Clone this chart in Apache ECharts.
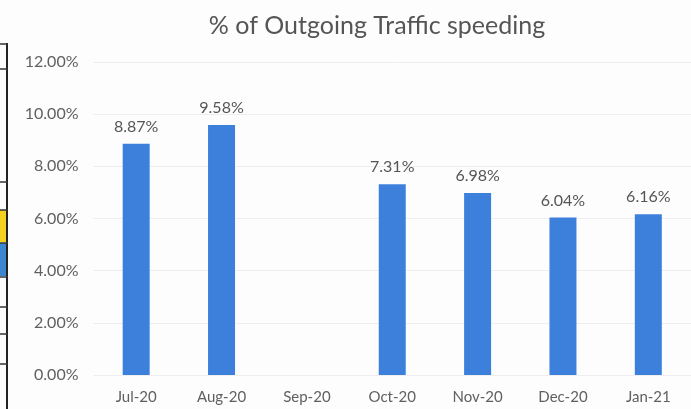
<!DOCTYPE html>
<html><head><meta charset="utf-8">
<script src="https://cdn.jsdelivr.net/npm/echarts@6/dist/echarts.min.js"></script>
<style>html,body{margin:0;padding:0;background:#fdfdfd;}#c{width:691px;height:409px;}</style>
</head><body><div id="c"></div>
<script>
const categories = ['Jul-20','Aug-20','Sep-20','Oct-20','Nov-20','Dec-20','Jan-21'];
const values = [8.87, 9.58, null, 7.31, 6.98, 6.04, 6.16];
const chartTitle = '% of Outgoing Traffic speeding';

const font = 'Lato, "Open Sans", sans-serif';
const chart = echarts.init(document.getElementById('c'));
const tableLines = [44, 69, 182, 210, 243, 277, 307, 334, 364];
const graphics = [
  {type:'rect', shape:{x:0,y:210,width:7,height:32}, style:{fill:'#f2d21c'}},
  {type:'rect', shape:{x:0,y:243,width:7,height:33}, style:{fill:'#3a86cf'}},
  {type:'line', shape:{x1:7,y1:43,x2:7,y2:409}, style:{stroke:'#222',lineWidth:2}}
];
tableLines.forEach(y => graphics.push({type:'line', shape:{x1:0,y1:y,x2:8,y2:y}, style:{stroke:'#333',lineWidth:1.5}}));

chart.setOption({
  backgroundColor:'#fdfdfd',
  animation:false,
  title:{text:chartTitle, left:372, top:8, textAlign:'center',
    textStyle:{fontFamily:font, fontSize:25, fontWeight:'normal', color:'#555555'}},
  grid:{left:93.5, right:-17, top:62, bottom:34},
  xAxis:{type:'category', data:categories,
    axisLine:{show:false}, axisTick:{show:false},
    axisLabel:{fontFamily:font, fontSize:15, color:'#606060', margin:15}},
  yAxis:{type:'value', min:0, max:12, interval:2,
    axisLabel:{fontFamily:font, fontSize:16, color:'#606060', margin:15,
      formatter: v => v.toFixed(2) + '%'},
    splitLine:{lineStyle:{color:'#eeeeee', width:1}}},
  series:[{type:'bar', data:values, barWidth:27,
    itemStyle:{color:'#3d80dc'},
    label:{show:true, position:'top', distance:9, fontFamily:font, fontSize:16, color:'#555555',
      formatter: p => p.value.toFixed(2) + '%'}}],
  graphic: graphics
});
</script></body></html>
